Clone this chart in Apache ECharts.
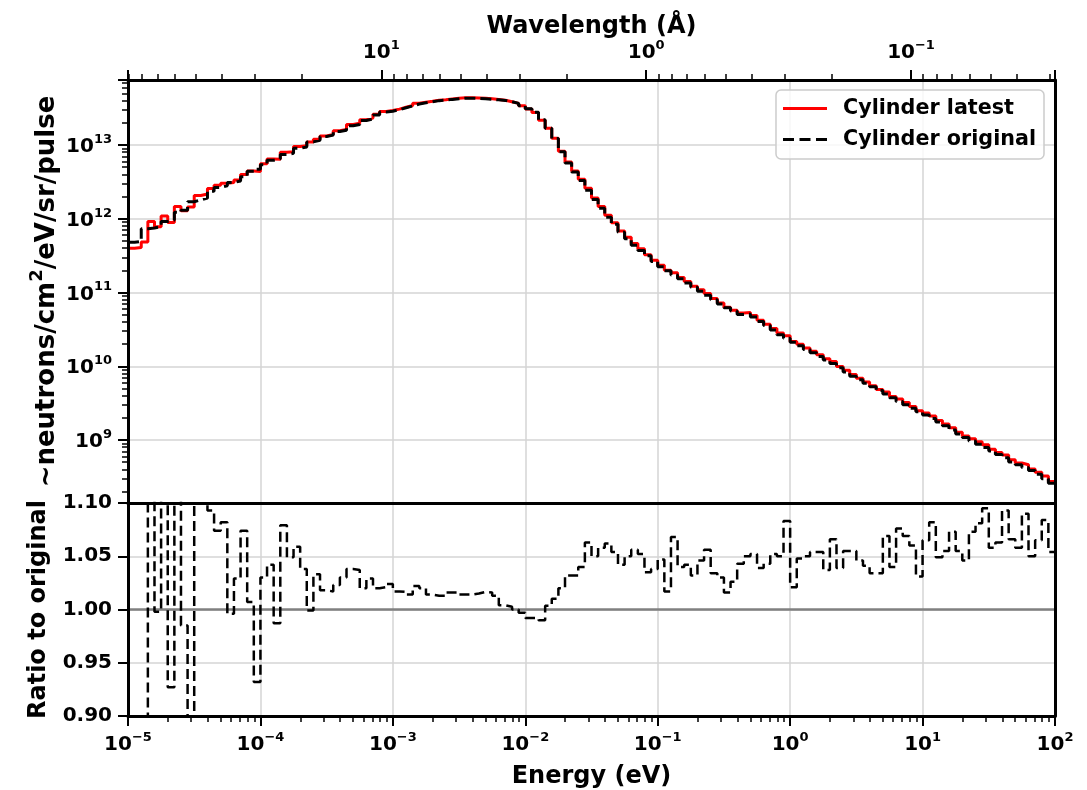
<!DOCTYPE html>
<html><head><meta charset="utf-8">
<script src="https://cdn.jsdelivr.net/npm/echarts@6/dist/echarts.min.js"></script>
<style>html,body{margin:0;padding:0;background:#fff}#c{width:1087px;height:790px}</style>
</head><body><div id="c"></div>
<script>
// ---- histogram binning (log-spaced energy bins) ----
const energyMin = 1e-5;
const energyMax = 1e2;
const binsPerDecade = 20;
const lambdaConst = 0.28602; // Å·eV^0.5, wavelength = C / sqrt(E)

// ---- flux of "Cylinder original" per bin (neutrons/cm²/eV/sr/pulse) ----
const original = [
  4.8e11, 4.9e11, 7.3e11, 7.5e11, 7.8e11, 9.2e11, 9.6e11, 1.22e12, 1.30e12, 1.70e12,
  1.80e12, 1.90e12, 2.35e12, 2.65e12, 2.80e12, 3.10e12, 3.25e12, 3.70e12, 4.40e12, 4.70e12,
  5.40e12, 6.20e12, 6.50e12, 7.40e12, 7.70e12, 9.0e12, 9.4e12, 1.10e13, 1.16e13, 1.30e13,
  1.36e13, 1.52e13, 1.58e13, 1.82e13, 1.90e13, 2.15e13, 2.25e13, 2.55e13, 2.79e13, 2.87e13,
  3.01e13, 3.20e13, 3.38e13, 3.59e13, 3.73e13, 3.86e13, 3.99e13, 4.06e13, 4.15e13, 4.23e13,
  4.31e13, 4.30e13, 4.28e13, 4.23e13, 4.16e13, 4.09e13, 4.02e13, 3.85e13, 3.66e13, 3.41e13,
  3.09e13, 2.77e13, 2.19e13, 1.68e13, 1.22e13, 8.07e12, 5.69e12, 4.30e12, 3.29e12, 2.44e12,
  1.82e12, 1.39e12, 1.05e12, 8.4e11, 6.55e11, 5.34e11, 4.36e11, 3.72e11, 3.14e11, 2.64e11,
  2.24e11, 1.97e11, 1.73e11, 1.53e11, 1.35e11, 1.18e11, 1.04e11, 9.2e10, 8.0e10, 7.0e10,
  6.2e10, 5.6e10, 5.05e10, 5.1e10, 4.65e10, 4.05e10, 3.56e10, 3.09e10, 2.68e10, 2.39e10,
  2.12e10, 1.90e10, 1.69e10, 1.52e10, 1.36e10, 1.22e10, 1.09e10, 9.55e9, 8.34e9, 7.31e9,
  6.55e9, 5.87e9, 5.26e9, 4.69e9, 4.19e9, 3.74e9, 3.34e9, 3.01e9, 2.69e9, 2.42e9,
  2.19e9, 1.96e9, 1.75e9, 1.56e9, 1.37e9, 1.21e9, 1.08e9, 9.73e8, 8.75e8, 7.89e8,
  7.09e8, 6.37e8, 5.73e8, 5.05e8, 4.62e8, 4.23e8, 3.86e8, 3.44e8, 2.99e8, 2.60e8
];

// ---- ratio latest / original per bin (bottom panel) ----
const ratio = [
  0.83, 0.83, 0.66, 1.22, 0.998, 1.18, 0.927, 1.20, 0.985, 0.85,
  1.15, 1.14, 1.093, 1.074, 1.082, 0.996, 1.029, 1.074, 1.007, 0.932,
  1.030, 1.042, 0.987, 1.079, 1.049, 1.059, 1.038, 0.999, 1.033, 1.018,
  1.017, 1.023, 1.030, 1.038, 1.037, 1.020, 1.029, 1.020, 1.021, 1.024,
  1.017, 1.0165, 1.014, 1.022, 1.020, 1.014, 1.013, 1.013, 1.016, 1.016,
  1.014, 1.014, 1.015, 1.0165, 1.016, 1.013, 1.004, 1.0025, 1.000, 0.997,
  0.992, 0.992, 0.990, 1.0035, 1.010, 1.020, 1.032, 1.032, 1.040, 1.063,
  1.050, 1.058, 1.062, 1.054, 1.042, 1.050, 1.056, 1.052, 1.035, 1.038,
  1.047, 1.017, 1.068, 1.040, 1.042, 1.032, 1.046, 1.056, 1.034, 1.030,
  1.016, 1.026, 1.043, 1.050, 1.052, 1.039, 1.043, 1.052, 1.050, 1.083,
  1.021, 1.048, 1.050, 1.054, 1.054, 1.037, 1.066, 1.039, 1.055, 1.055,
  1.046, 1.041, 1.034, 1.034, 1.069, 1.040, 1.076, 1.069, 1.060, 1.031,
  1.065, 1.082, 1.049, 1.055, 1.073, 1.055, 1.046, 1.073, 1.081, 1.095,
  1.058, 1.063, 1.093, 1.066, 1.058, 1.090, 1.050, 1.065, 1.084, 1.054
];

const seriesNames = ['Cylinder latest', 'Cylinder original'];
const fluxMin = 1.4e8, fluxMax = 7.6e13;
const ratioMin = 0.90, ratioMax = 1.10, ratioStep = 0.05;

// ---- derived ----
const latest = original.map((v, i) => v * ratio[i]);
const energyEdges = [];
for (let k = 0; k <= original.length; k++) {
  energyEdges.push(Math.pow(10, Math.log10(energyMin) + k / binsPerDecade));
}
function stepData(vals) {
  return energyEdges.map((e, k) => [e, vals[Math.min(k, vals.length - 1)]]);
}
const wlMin = lambdaConst / Math.sqrt(energyMax);
const wlMax = lambdaConst / Math.sqrt(energyMin);

const FONT = 'DejaVu Sans';
const GRIDC = '#d4d4d4';
const frame = { color: '#000', width: 3 };
const rich = {
  b: { fontFamily: FONT, fontWeight: 'bold', fontSize: 20, color: '#000', lineHeight: 24, verticalAlign: 'bottom' },
  s: { fontFamily: FONT, fontWeight: 'bold', fontSize: 13, color: '#000', lineHeight: 14, verticalAlign: 'top' }
};
function powLabel(v) {
  const p = Math.log10(v), r = Math.round(p);
  if (Math.abs(p - r) > 1e-6) return '';
  return '{b|10}{s|' + (r < 0 ? '\u2212' + (-r) : String(r)) + '}';
}
const nameStyle = { fontFamily: FONT, fontWeight: 'bold', fontSize: 24, color: '#000' };
const yNameStyle = {
  fontFamily: FONT, fontWeight: 'bold', fontSize: 26, color: '#000', lineHeight: 32,
  rich: {
    t: { fontFamily: FONT, fontWeight: 'bold', fontSize: 26, color: '#000', lineHeight: 32, verticalAlign: 'bottom' },
    s: { fontFamily: FONT, fontWeight: 'bold', fontSize: 18, color: '#000', lineHeight: 19, verticalAlign: 'top' }
  }
};
const majorTick = { show: true, inside: false, length: 10, lineStyle: { color: '#000', width: 2 } };
const minorTick = { show: true, splitNumber: 9, length: 6, lineStyle: { color: '#000', width: 1.5 } };
const off = { show: false };
const dashIcon = 'path://M0 0h11v3h-11z M16.5 0h11v3h-11z M33 0h11v3h-11z';

const chart = echarts.init(document.getElementById('c'), null, { renderer: 'canvas' });
chart.setOption({
  animation: false,
  backgroundColor: '#fff',
  textStyle: { fontFamily: FONT, fontWeight: 'bold', color: '#000' },
  grid: [
    { left: 128, right: 32, top: 80, height: 423, containLabel: false, outerBoundsMode: 'none' },
    { left: 128, right: 32, top: 503, height: 213, containLabel: false, outerBoundsMode: 'none' }
  ],
  legend: {
    data: [
      { name: seriesNames[0], icon: 'rect', itemStyle: { color: '#ff0000' } },
      { name: seriesNames[1], icon: dashIcon, itemStyle: { color: '#000' } }
    ],
    right: 43, top: 90, orient: 'vertical',
    itemWidth: 44, itemHeight: 3, itemGap: 10, padding: [8, 8, 9, 7],
    backgroundColor: 'rgba(255,255,255,0.8)', borderColor: '#cccccc', borderWidth: 1.5, borderRadius: 5,
    selectedMode: false,
    textStyle: { fontFamily: FONT, fontWeight: 'bold', fontSize: 20.7, color: '#000', padding: [0, 0, 0, 11] }
  },
  xAxis: [
    { gridIndex: 0, type: 'log', min: energyMin, max: energyMax, position: 'bottom',
      axisLine: off, axisTick: off, axisLabel: off, minorTick: off,
      splitLine: { show: true, lineStyle: { color: GRIDC, width: 1.5 } } },
    { gridIndex: 0, type: 'log', min: wlMin, max: wlMax, inverse: true, position: 'top', z: 10,
      axisLine: { show: true, onZero: false, lineStyle: frame },
      axisTick: majorTick, minorTick: minorTick,
      axisLabel: { show: true, margin: 17, formatter: powLabel, rich: rich },
      splitLine: off, minorSplitLine: off,
      name: 'Wavelength (Å)', nameLocation: 'middle', nameGap: 41, nameMoveOverlap: false, nameTextStyle: nameStyle },
    { gridIndex: 0, type: 'log', min: energyMin, max: energyMax, position: 'bottom', z: 10,
      axisLine: { show: true, onZero: false, lineStyle: frame },
      axisTick: off, axisLabel: off, minorTick: off, splitLine: off },
    { gridIndex: 1, type: 'log', min: energyMin, max: energyMax, position: 'bottom',
      axisLine: off, axisTick: off, axisLabel: off, minorTick: off,
      splitLine: { show: true, lineStyle: { color: GRIDC, width: 1.5 } } },
    { gridIndex: 1, type: 'log', min: energyMin, max: energyMax, position: 'bottom', z: 10,
      axisLine: { show: true, onZero: false, lineStyle: frame },
      axisTick: majorTick, minorTick: minorTick,
      axisLabel: { show: true, margin: 15, formatter: powLabel, rich: rich },
      splitLine: off,
      name: 'Energy (eV)', nameLocation: 'middle', nameGap: 49, nameMoveOverlap: false, nameTextStyle: nameStyle }
  ],
  yAxis: [
    { gridIndex: 0, type: 'log', min: fluxMin, max: fluxMax, position: 'left',
      axisLine: off, axisTick: off, axisLabel: off, minorTick: off,
      splitLine: { show: true, lineStyle: { color: GRIDC, width: 1.5 } } },
    { gridIndex: 0, type: 'log', min: fluxMin, max: fluxMax, position: 'left', z: 10,
      axisLine: { show: true, onZero: false, lineStyle: frame },
      axisTick: majorTick, minorTick: minorTick,
      axisLabel: { show: true, margin: 16, formatter: powLabel, rich: rich },
      splitLine: off,
      name: '{t|~neutrons/cm}{s|2}{t|/eV/sr/pulse}', nameLocation: 'middle', nameGap: 68, nameRotate: 90,
      nameMoveOverlap: false, nameTextStyle: yNameStyle },
    { gridIndex: 0, type: 'log', min: fluxMin, max: fluxMax, position: 'right', z: 10,
      axisLine: { show: true, onZero: false, lineStyle: frame },
      axisTick: off, axisLabel: off, minorTick: off, splitLine: off },
    { gridIndex: 1, type: 'value', min: ratioMin, max: ratioMax, interval: ratioStep, position: 'left',
      axisLine: off, axisTick: off, axisLabel: off,
      splitLine: { show: true, lineStyle: { color: GRIDC, width: 1.5 } } },
    { gridIndex: 1, type: 'value', min: ratioMin, max: ratioMax, interval: ratioStep, position: 'left', z: 10,
      axisLine: { show: true, onZero: false, lineStyle: frame },
      axisTick: majorTick,
      axisLabel: { show: true, margin: 16, fontFamily: FONT, fontWeight: 'bold', fontSize: 20, color: '#000',
        formatter: v => v.toFixed(2) },
      splitLine: off,
      name: 'Ratio to original', nameLocation: 'middle', nameGap: 77, nameRotate: 90,
      nameMoveOverlap: false, nameTextStyle: nameStyle },
    { gridIndex: 1, type: 'value', min: ratioMin, max: ratioMax, interval: ratioStep, position: 'right', z: 10,
      axisLine: { show: true, onZero: false, lineStyle: frame },
      axisTick: off, axisLabel: off, splitLine: off }
  ],
  series: [
    { name: seriesNames[0], type: 'line', xAxisIndex: 0, yAxisIndex: 0, step: 'end', symbol: 'none',
      data: stepData(latest), lineStyle: { color: '#ff0000', width: 3 }, itemStyle: { color: '#ff0000' }, z: 2 },
    { name: seriesNames[1], type: 'line', xAxisIndex: 0, yAxisIndex: 0, step: 'end', symbol: 'none',
      data: stepData(original), lineStyle: { color: '#000', width: 3, type: [11, 5] }, itemStyle: { color: '#000' }, z: 3 },
    { name: 'unity', type: 'line', xAxisIndex: 3, yAxisIndex: 3, symbol: 'none', silent: true,
      data: [[energyMin, 1], [energyMax, 1]], lineStyle: { color: '#808080', width: 2.5 }, z: 2 },
    { name: 'ratio', type: 'line', xAxisIndex: 3, yAxisIndex: 3, step: 'end', symbol: 'none',
      data: stepData(ratio), lineStyle: { color: '#000', width: 2.5, type: [10, 5] }, itemStyle: { color: '#000' }, z: 3 }
  ]
});
</script>
</body></html>
